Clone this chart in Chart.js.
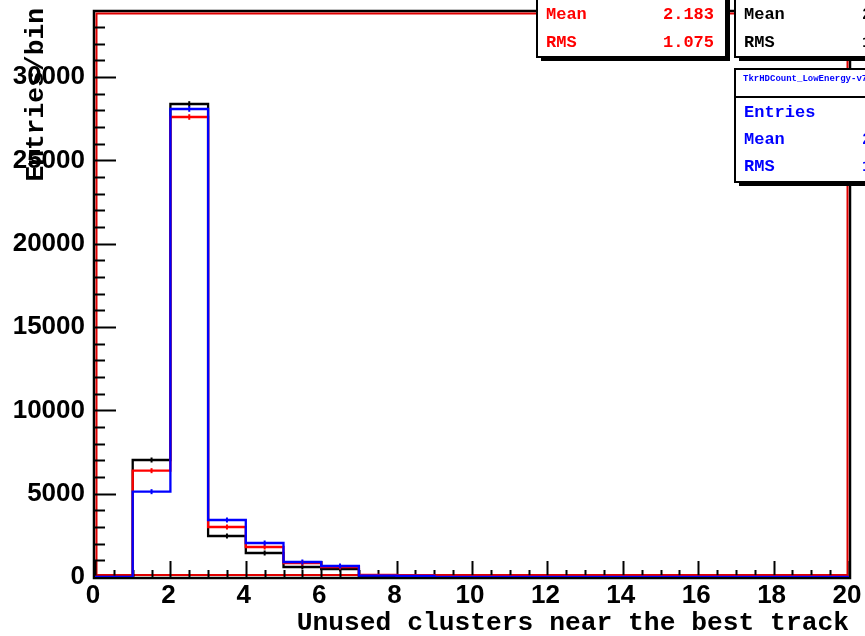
<!DOCTYPE html>
<html>
<head>
<meta charset="utf-8">
<script src="https://cdn.jsdelivr.net/npm/chart.js@4.4.1/dist/chart.umd.min.js"></script>
<style>
  html, body { margin: 0; padding: 0; background: #fff; }
  canvas { display: block; }
</style>
</head>
<body>
<canvas id="chart" width="865" height="636"></canvas>
<script>
// bin edges 0..20, one count per bin
const binEdges = [0,1,2,3,4,5,6,7,8,9,10,11,12,13,14,15,16,17,18,19,20];
const blackCounts = [0, 7020, 28380, 2460, 1440, 600, 480, 60, 40, 10, 10, 10, 10, 10, 10, 10, 10, 10, 10, 10];
const redCounts   = [0, 6380, 27600, 3000, 1800, 840, 600, 130, 100, 30, 30, 30, 30, 30, 30, 30, 30, 30, 30, 30];
const blueCounts  = [0, 5120, 28080, 3420, 2040, 900, 660, 80, 60, 5, 5, 5, 5, 5, 5, 5, 5, 5, 5, 5];

const xTickValues = [0,2,4,6,8,10,12,14,16,18,20];
const yTickValues = [0,5000,10000,15000,20000,25000,30000];
const xTitle = "Unused clusters near the best track";
const yTitle = "Entries/bin";

const redStats   = [["Mean", "2.183"], ["RMS", "1.075"]];
const blackStats = [["Mean", "2.176"], ["RMS", "1.049"]];
const blueStats  = [["Entries", ""], ["Mean", "2.254"], ["RMS", "1.062"]];
const blueTitle  = "TkrHDCount_LowEnergy-v7r3p4";

const X_MIN = 0, X_MAX = 20, Y_MAX = 33900;

const toSteps = counts =>
  counts.map((v, i) => ({ x: binEdges[i], y: v })).concat([{ x: binEdges[binEdges.length - 1], y: counts[counts.length - 1] }]);

const histSet = (label, counts, color, order) => ({
  label,
  data: toSteps(counts),
  counts,
  borderColor: color,
  borderWidth: 2.3,
  stepped: "before",
  pointRadius: 0,
  fill: false,
  order
});

// ROOT-like frame, ticks, labels
const frameAxes = {
  id: "frameAxes",
  beforeDatasetsDraw(chart) {
    const { ctx, chartArea: a, scales: { x, y } } = chart;
    ctx.save();
    // frame
    ctx.lineWidth = 2.5;
    ctx.strokeStyle = "#000";
    ctx.strokeRect(a.left - 1, a.top - 1, a.right - a.left + 2, a.bottom - a.top + 2);
    ctx.lineWidth = 2;
    ctx.strokeStyle = "#e00000";
    ctx.strokeRect(a.left + 1.5, a.top + 1.5, a.right - a.left - 3, a.bottom - a.top - 3.5);

    ctx.strokeStyle = "#000";
    ctx.lineWidth = 2;
    // y ticks
    for (let v = 0; v <= Y_MAX; v += 1000) {
      const py = Math.round(y.getPixelForValue(v)) + 0.5;
      const len = v % 5000 === 0 ? 21 : 10;
      ctx.beginPath();
      ctx.moveTo(a.left, py);
      ctx.lineTo(a.left + len, py);
      ctx.stroke();
    }
    // x ticks
    for (let v = X_MIN; v <= X_MAX; v += 0.5) {
      const px = Math.round(x.getPixelForValue(v)) + 0.5;
      const len = v % 2 === 0 ? 16 : 7;
      ctx.beginPath();
      ctx.moveTo(px, a.bottom);
      ctx.lineTo(px, a.bottom - len);
      ctx.stroke();
    }

    // tick labels
    ctx.fillStyle = "#000";
    ctx.font = "bold 26px 'Liberation Sans'";
    ctx.textAlign = "right";
    ctx.textBaseline = "middle";
    yTickValues.forEach(v => ctx.fillText(String(v), a.left - 10, y.getPixelForValue(v)));
    ctx.textAlign = "center";
    ctx.textBaseline = "top";
    xTickValues.forEach(v => ctx.fillText(String(v), x.getPixelForValue(v) - 2, a.bottom + 6));

    // axis titles
    ctx.font = "bold 26.3px 'Liberation Mono'";
    ctx.textAlign = "right";
    ctx.textBaseline = "alphabetic";
    ctx.fillText(xTitle, a.right, 630);
    ctx.save();
    ctx.translate(43, 8);
    ctx.rotate(-Math.PI / 2);
    ctx.textAlign = "right";
    ctx.textBaseline = "alphabetic";
    ctx.fillText(yTitle, 0, 0);
    ctx.restore();
    ctx.restore();
  },
  afterDatasetsDraw(chart) {
    const { ctx, scales: { x, y } } = chart;
    ctx.save();
    chart.data.datasets.slice().reverse().forEach(ds => {
      ctx.strokeStyle = ds.borderColor;
      ctx.lineWidth = 2;
      ds.counts.forEach((v, i) => {
        if (v < 300) return;
        const cx = x.getPixelForValue(binEdges[i] + 0.5);
        const e = Math.sqrt(v);
        const y1 = Math.min(y.getPixelForValue(v + e), y.getPixelForValue(v) - 2.5);
        const y2 = Math.max(y.getPixelForValue(v - e), y.getPixelForValue(v) + 2.5);
        ctx.beginPath();
        ctx.moveTo(cx, y1);
        ctx.lineTo(cx, y2);
        ctx.stroke();
      });
    });
    ctx.restore();
  },
  afterDraw(chart) {
    const { ctx } = chart;
    const box = (bx, by, w, h, color, rows, rowY, valRight, title, sepY) => {
      ctx.save();
      ctx.fillStyle = "#000";
      ctx.fillRect(bx + 4, by + 4, w, h);
      ctx.fillStyle = "#fff";
      ctx.fillRect(bx, by, w, h);
      ctx.strokeStyle = "#000";
      ctx.lineWidth = 2;
      ctx.strokeRect(bx, by, w, h);
      if (title) {
        ctx.beginPath();
        ctx.moveTo(bx, sepY);
        ctx.lineTo(bx + w, sepY);
        ctx.stroke();
        ctx.fillStyle = color;
        ctx.font = "bold 9px 'Liberation Mono'";
        ctx.textAlign = "left";
        ctx.textBaseline = "middle";
        ctx.fillText(title, bx + 8, by + 10);
      }
      ctx.fillStyle = color;
      ctx.font = "bold 17px 'Liberation Mono'";
      ctx.textBaseline = "middle";
      rows.forEach((r, i) => {
        ctx.textAlign = "left";
        ctx.fillText(r[0], bx + 9, rowY[i]);
        ctx.textAlign = "right";
        ctx.fillText(r[1], valRight, rowY[i]);
      });
      ctx.restore();
    };
    box(537, -40, 189, 97, "#ff0000", redStats, [15, 43], 714);
    box(735, -40, 195, 97, "#000", blackStats, [15, 43], 913);
    box(735, 69, 195, 113, "#0000ff", blueStats, [113, 140, 167], 913, blueTitle, 97);
  }
};

new Chart(document.getElementById("chart"), {
  type: "line",
  data: {
    datasets: [
      histSet("blue", blueCounts, "#0000ff", 0),
      histSet("red", redCounts, "#ff0000", 1),
      histSet("black", blackCounts, "#000000", 2)
    ]
  },
  options: {
    responsive: false,
    animation: false,
    devicePixelRatio: 1,
    layout: { padding: { left: 95, right: 16, top: 12, bottom: 59 } },
    plugins: { legend: { display: false }, tooltip: { enabled: false } },
    scales: {
      x: { type: "linear", min: X_MIN, max: X_MAX, display: false },
      y: { type: "linear", min: 0, max: Y_MAX, display: false }
    }
  },
  plugins: [frameAxes]
});
</script>
</body>
</html>
